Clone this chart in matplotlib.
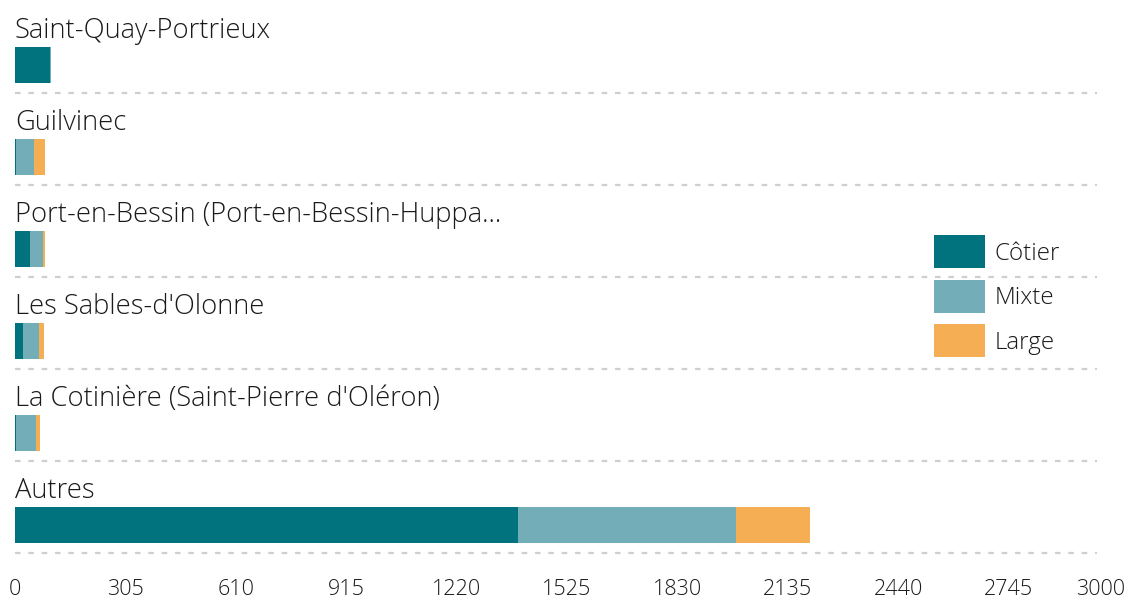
import matplotlib
matplotlib.use('Agg')

import matplotlib.pyplot as plt
import numpy as np

# ------------------------------------------------------------
# DATA
# ------------------------------------------------------------
ports = ["Saint-Quay-Portrieux", "Guilvinec",
         "Port-en-Bessin (Port-en-Bessin-Huppa...",
         "Les Sables-d'Olonne",
         "La Cotinière (Saint-Pierre d'Oléron)", "Autres"]
cotier = [97, 3, 42, 22, 3, 1389]
mixte = [2, 50, 35, 45, 55, 603]
large = [0, 30, 5, 13, 11, 204]

series = ["Côtier", "Mixte", "Large"]
colors = ["#00737F", "#72ADB8", "#F6AE54"]
xticks = [0, 305, 610, 915, 1220, 1525, 1830, 2135, 2440, 2745, 3000]

# ------------------------------------------------------------
# STYLE
# ------------------------------------------------------------
plt.rcParams.update({
    "font.family": ["Open Sans", "DejaVu Sans"],
    "font.weight": "light",
})
TXT = "#1A1A1A"

W, H = 1130, 601
fig = plt.figure(figsize=(W / 100, H / 100), dpi=100)
ax = fig.add_axes([15 / W, 1 - 553 / H, (1101 - 15) / W, 552 / H])

n = len(ports)
y = np.arange(n) + 0.695       # bar centre inside each row
bh = 0.39

left = np.zeros(n)
for vals, name, c in zip([cotier, mixte, large], series, colors):
    ax.barh(y, vals, left=left, height=bh, color=c, label=name,
            linewidth=0, zorder=3)
    left += np.array(vals)

for i, name in enumerate(ports):
    ax.text(0, i + 0.405, name, fontsize=19.7, color=TXT,
            va="baseline", ha="left")

for i in range(n):
    ax.plot([0, 2990], [i + 1, i + 1], color="#CFCFCF", lw=1.6,
            ls=(0, (2.5, 3.5)), zorder=1, clip_on=False)

ax.set_xlim(0, 3000)
ax.set_ylim(n, 0)
ax.set_xticks(xticks)
ax.set_xticklabels([str(t) for t in xticks], fontsize=15.5, color=TXT)
ax.tick_params(axis="x", length=0, pad=19)
ax.set_yticks([])
for s in ax.spines.values():
    s.set_visible(False)

leg = ax.legend(loc="upper left", bbox_to_anchor=(934 / W, 1 - 235 / H),
                bbox_transform=fig.transFigure, frameon=False,
                fontsize=17.4, handlelength=2.1, handleheight=1.75,
                labelspacing=0.46, handletextpad=0.42,
                borderpad=0, borderaxespad=0)
for t in leg.get_texts():
    t.set_color(TXT)

fig.savefig("out.png", dpi=100)
